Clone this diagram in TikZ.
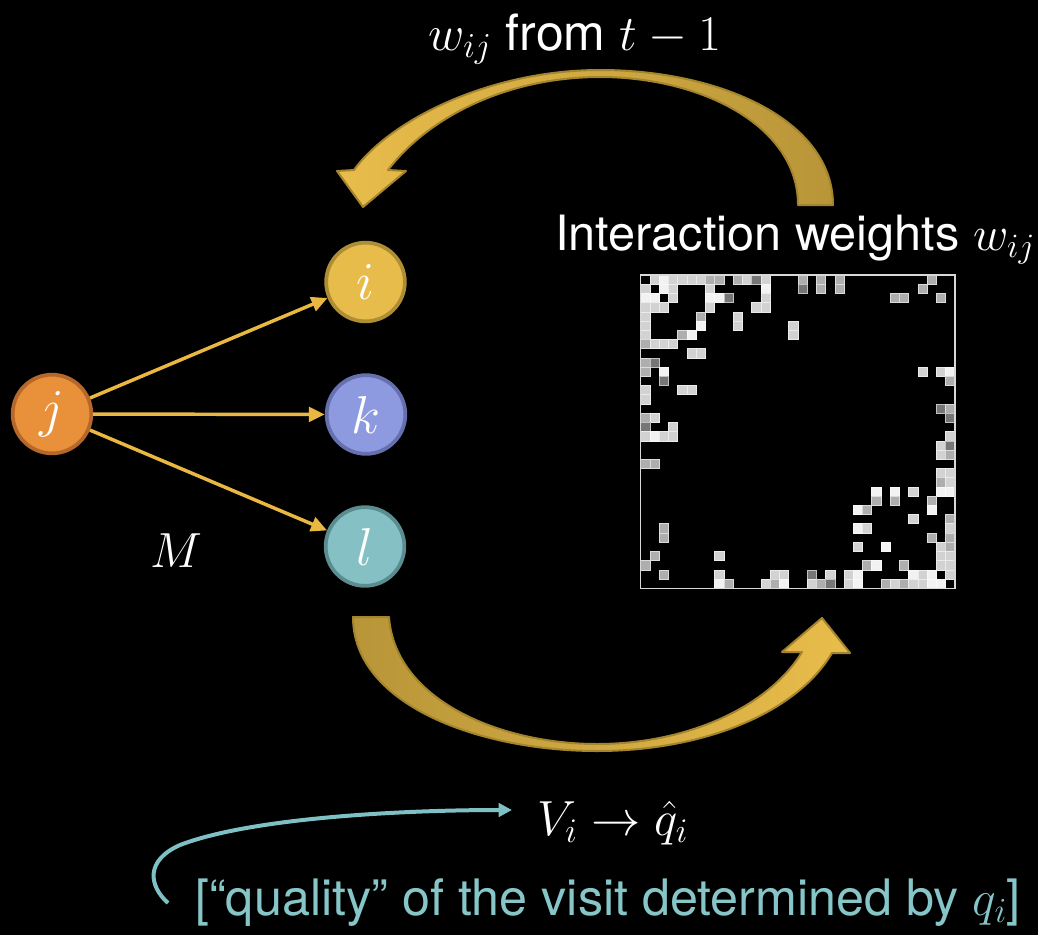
\RequirePackage{fix-cm}
\documentclass[tikz,border=0pt]{standalone}
\usepackage{fontspec}
\setmainfont{TeX Gyre Heros}
\usetikzlibrary{arrows.meta}
\definecolor{goldhead}{HTML}{E9BD4B}
\definecolor{goldtail}{HTML}{B89538}
\definecolor{goldedge}{HTML}{A4852E}
\definecolor{edgeyellow}{HTML}{E8B840}
\definecolor{tealc}{HTML}{7FC0C4}
\definecolor{tealtxt}{HTML}{86C5C8}
\definecolor{jfill}{HTML}{E8913A}\definecolor{jedge}{HTML}{B5682A}
\definecolor{ifill}{HTML}{E8BC4A}\definecolor{iedge}{HTML}{AE8E34}
\definecolor{kfill}{HTML}{8E9AE0}\definecolor{kedge}{HTML}{6670AE}
\definecolor{lfill}{HTML}{84C0C4}\definecolor{ledge}{HTML}{5A8C90}
\definecolor{cW}{HTML}{F2F2F2}
\definecolor{cL}{HTML}{D2D2D2}
\definecolor{cG}{HTML}{AEAEAE}
\definecolor{cD}{HTML}{767676}
\definecolor{frame}{HTML}{D8D8D8}
\begin{document}
\begin{tikzpicture}[x=0.75pt,y=-0.75pt,
  vnode/.style={circle,minimum size=59pt,inner sep=0pt,line width=2.8pt,text=white,font=\fontsize{40}{46}\selectfont},
  edge/.style={draw=edgeyellow,line width=2.6pt,-{Triangle[length=12pt,width=11pt]}},
  bigarrow/.style={draw=goldedge,line width=1.5pt,line join=round},
  txt/.style={text=white,inner sep=0pt},
  cell/.style={line width=0.5pt}]
\fill[black] (0,0) rectangle (1038,935);
\useasboundingbox (0,0) rectangle (1038,935);

% interaction matrix
\foreach \r/\c/\s in {0/1/cL,0/2/cW,0/3/cL,0/4/cL,0/5/cL,0/6/cL,0/7/cG,0/8/cG,0/10/cG,0/11/cL,0/12/cD,0/13/cL,0/17/cG,0/19/cG,0/21/cG,0/31/cG,
1/0/cL,1/2/cW,1/3/cL,1/7/cL,1/13/cW,1/17/cD,1/19/cG,1/21/cG,1/30/cG,
2/0/cW,2/1/cW,2/3/cL,2/7/cW,2/8/cW,2/9/cD,2/13/cL,2/27/cG,2/28/cG,2/32/cG,
3/0/cL,3/1/cL,3/2/cL,3/7/cL,3/12/cL,3/13/cL,
4/0/cL,4/6/cG,4/10/cL,
5/0/cL,5/6/cW,5/10/cL,5/16/cL,
6/0/cL,6/4/cG,6/5/cW,6/16/cL,
7/0/cG,7/1/cL,7/2/cL,7/3/cL,
8/5/cL,8/6/cL,
9/0/cG,9/1/cD,
10/0/cG,10/2/cW,10/30/cL,10/32/cL,10/33/cW,
11/2/cD,11/33/cG,
12/0/cL,12/4/cL,12/5/cL,
13/0/cL,
14/32/cD,14/33/cG,
15/0/cG,15/1/cL,15/33/cD,
16/0/cD,16/3/cL,
17/0/cL,17/1/cW,17/2/cL,17/3/cL,17/33/cL,
18/32/cL,18/33/cD,
19/32/cL,19/33/cG,
20/0/cG,20/1/cG,
21/32/cL,21/33/cL,
22/32/cG,22/33/cL,
23/25/cW,23/27/cW,23/29/cL,23/32/cW,23/33/cW,
24/25/cG,24/27/cG,24/31/cG,
25/23/cW,25/24/cG,25/31/cW,
26/29/cL,26/33/cG,
27/2/cG,27/23/cW,27/24/cL,27/33/cL,
28/2/cG,28/31/cG,28/33/cG,
29/23/cL,29/26/cW,29/32/cL,29/33/cG,
30/1/cG,30/8/cL,30/32/cL,30/33/cL,
31/0/cG,31/24/cG,31/25/cW,31/28/cG,31/32/cL,31/33/cL,
32/2/cG,32/8/cL,32/14/cL,32/15/cL,32/18/cD,32/20/cL,32/22/cL,32/23/cW,32/29/cW,32/30/cL,32/31/cW,32/33/cL,
33/8/cW,33/9/cG,33/13/cL,33/14/cG,33/15/cW,33/18/cL,33/19/cG,33/20/cD,33/22/cL,33/23/cW,33/26/cG,33/27/cL,33/28/cG,33/29/cL,33/30/cL,33/31/cW,33/32/cW}
  \draw[cell,fill=\s,draw=\s!45!white] ({640.7+9.244*\c},{275+9.215*\r}) rectangle ++(9.244,9.215);
\draw[frame,line width=0.9pt] (640.7,275) rectangle (955,588.3);

% big curved arrows
\draw[bigarrow,left color=goldhead,right color=goldtail]
 (833,205) .. controls (833,120) and (720,70) .. (600,70)
 .. controls (490,70) and (390,120) .. (354,170)
 -- (337,171) -- (363,207) -- (406,171) -- (388,170)
 .. controls (430,115) and (510,77) .. (600,77)
 .. controls (700,77) and (798,125) .. (798,205) -- cycle;
\draw[bigarrow,left color=goldtail,right color=goldhead]
 (353,617) -- (389,617)
 .. controls (395,700) and (500,744) .. (597,744)
 .. controls (690,744) and (770,705) .. (802,652)
 -- (782,652) -- (822,618) -- (850,653) -- (832,653)
 .. controls (795,715) and (700,751) .. (597,751)
 .. controls (480,751) and (353,705) .. (353,617) -- cycle;

% graph
\node[vnode,fill=jfill,draw=jedge] (j) at (52,414) {$j$};
\node[vnode,fill=ifill,draw=iedge] (i) at (365.5,282) {$i$};
\node[vnode,fill=kfill,draw=kedge] (k) at (366,414.5) {$k$};
\node[vnode,fill=lfill,draw=ledge] (l) at (365,546.5) {$l$};
\draw[edge] (j) -- (i);
\draw[edge] (j) -- (k);
\draw[edge] (j) -- (l);
\node[txt,font=\fontsize{37}{42}\selectfont] (M) at (176,551) {$M$};

% texts
\node[txt,font=\fontsize{37.5}{43}\selectfont,anchor=base west] (top) at (428,50) {$w_{ij}$ from $t-1$};
\node[txt,font=\fontsize{36.5}{42}\selectfont,anchor=base west] (iw) at (555,250) {Interaction weights $w_{ij}$};
\node[txt,font=\fontsize{37}{42}\selectfont,anchor=base west] (vq) at (537,835) {$V_i \rightarrow \hat{q}_i$};
\node[txt,font=\fontsize{37.7}{43}\selectfont,text=tealtxt,anchor=base west] (qual) at (195,915) {[“quality” of the visit determined by $q_i$]};

% teal connector
\coordinate (hook) at (168,903);
\coordinate (tip) at (512,810);
\draw[tealc,line width=3pt,-{Triangle[length=10pt,width=10pt]}]
 (hook) .. controls (148,885) and (146,860) .. (180,845)
 .. controls (250,818) and (400,810) .. (tip);
\end{tikzpicture}
\end{document}
